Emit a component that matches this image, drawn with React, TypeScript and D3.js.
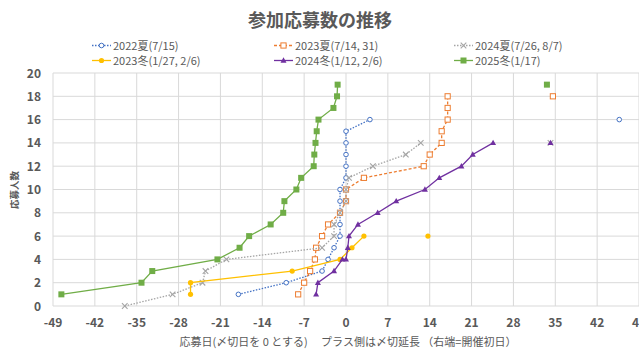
import * as d3 from "d3"

// 各シリーズ: [応募日(〆切日=0), 応募人数]
const s2022s: [number, number][] = [
  [-18, 1], [-10, 2], [-4, 3], [-3, 4], [-2, 5], [-1, 6], [-1, 7], [-1, 8],
  [-1, 9], [-1, 10], [0, 11], [0, 12], [0, 13], [0, 14], [0, 15], [4, 16],
]
const s2023s: [number, number][] = [
  [-8, 1], [-7, 2], [-6, 3], [-5.2, 4], [-5, 5], [-4, 6], [-3, 7], [-1, 8],
  [0, 9], [0, 10], [3, 11], [13, 12], [14, 13], [16, 14], [16, 15], [17, 16],
  [17, 17], [17, 18],
]
const s2024s: [number, number][] = [
  [-37, 0], [-29, 1], [-24, 2], [-23.5, 3], [-20, 4], [-4, 5], [-2, 6], [-2, 7],
  [-1, 8], [0, 9], [0, 10], [0.5, 11], [4.5, 12], [10, 13], [12.5, 14],
]
const s2023w: [number, number][] = [
  [-26, 1], [-26, 2], [-9, 3], [-1, 4], [1, 5], [3, 6],
]
const s2024w: [number, number][] = [
  [-5, 1], [-4.7, 2], [-2, 3], [-0.6, 4], [0, 4], [0.3, 5], [0.5, 6], [2, 7],
  [5.3, 8], [8.4, 9], [13.2, 10], [15.6, 11], [19.3, 12], [21.2, 13], [24.6, 14],
]
const s2025w: [number, number][] = [
  [-47.6, 1], [-34.2, 2], [-32.4, 3], [-21.5, 4], [-17.8, 5], [-16.2, 6],
  [-12.6, 7], [-10.5, 8], [-10.3, 9], [-8.3, 10], [-7.5, 11], [-5.4, 12],
  [-5.3, 13], [-5.1, 14], [-4.9, 15], [-4.6, 16], [-2.1, 17], [-1.5, 18], [-1.4, 19],
]

// 開催初日 (右端) の点
const event2022s: [number, number][] = [[45.7, 16]]
const event2023s: [number, number][] = [[34.6, 18]]
const event2024s: [number, number][] = [[34.2, 14]]
const event2023w: [number, number][] = [[13.7, 6]]
const event2024w: [number, number][] = [[34.2, 14]]
const event2025w: [number, number][] = [[33.6, 19]]

const xTicks = [-49, -42, -35, -28, -21, -14, -7, 0, 7, 14, 21, 28, 35, 42, 49]
const yTicks = [0, 2, 4, 6, 8, 10, 12, 14, 16, 18, 20]

type Marker = "circleOpen" | "squareOpen" | "cross" | "circle" | "triangle" | "square"

const series: {
  name: string
  color: string
  dash: string
  marker: Marker
  data: [number, number][]
  event: [number, number][]
}[] = [
  { name: "2022夏(7/15)", color: "#4472C4", dash: "1.5 1.5", marker: "circleOpen", data: s2022s, event: event2022s },
  { name: "2023夏(7/14, 31)", color: "#ED7D31", dash: "3 2", marker: "squareOpen", data: s2023s, event: event2023s },
  { name: "2024夏(7/26, 8/7)", color: "#A5A5A5", dash: "1.5 1.5", marker: "cross", data: s2024s, event: event2024s },
  { name: "2023冬(1/27, 2/6)", color: "#FFC000", dash: "", marker: "circle", data: s2023w, event: event2023w },
  { name: "2024冬(1/12, 2/6)", color: "#7030A0", dash: "", marker: "triangle", data: s2024w, event: event2024w },
  { name: "2025冬(1/17)", color: "#70AD47", dash: "", marker: "square", data: s2025w, event: event2025w },
]

const font = "'Noto Sans CJK JP', 'Noto Sans', sans-serif"
const textColor = "#595959"

function MarkerShape({ type, x, y, color }: { type: Marker; x: number; y: number; color: string }) {
  switch (type) {
    case "circleOpen":
      return <circle cx={x} cy={y} r={2.3} fill="#fff" stroke={color} strokeWidth={1} />
    case "squareOpen":
      return <rect x={x - 2.6} y={y - 2.6} width={5.2} height={5.2} fill="#fff" stroke={color} strokeWidth={1} />
    case "cross":
      return (
        <path d={`M${x - 2.8},${y - 2.8}L${x + 2.8},${y + 2.8}M${x - 2.8},${y + 2.8}L${x + 2.8},${y - 2.8}`} stroke={color} strokeWidth={1.1} />
      )
    case "circle":
      return <circle cx={x} cy={y} r={2.6} fill={color} />
    case "triangle":
      return <path d={`M${x},${y - 3.2}L${x + 3},${y + 2.2}L${x - 3},${y + 2.2}Z`} fill={color} />
    case "square":
      return <rect x={x - 3} y={y - 3} width={6} height={6} fill={color} />
  }
}

export default function App() {
  const width = 639
  const height = 352
  const left = 53
  const right = 639
  const top = 73
  const bottom = 306

  const x = d3.scaleLinear().domain([-49, 49]).range([left, right])
  const y = d3.scaleLinear().domain([0, 20]).range([bottom, top])

  const line = d3
    .line<[number, number]>()
    .x((d) => x(d[0]))
    .y((d) => y(d[1]))

  const legendCols = [92, 274, 454]
  const legendRows = [45.5, 60.5]

  return (
    <svg width={width} height={height} style={{ position: "absolute", left: 0, top: 0, background: "#fff" }} fontFamily={font}>
      <text x={320} y={27} textAnchor="middle" fontSize={18} fontWeight="bold" fill={textColor}>
        参加応募数の推移
      </text>

      {/* legend */}
      {series.map((s, i) => {
        const lx = legendCols[i % 3]
        const ly = legendRows[Math.floor(i / 3)]
        return (
          <g key={s.name}>
            <line x1={lx} x2={lx + 19} y1={ly} y2={ly} stroke={s.color} strokeWidth={1.3} strokeDasharray={s.dash || undefined} />
            <MarkerShape type={s.marker} x={lx + 9.5} y={ly} color={s.color} />
            <text x={lx + 21} y={ly + 4} fontSize={11} fill={textColor}>
              {s.name}
            </text>
          </g>
        )
      })}

      {/* grid */}
      <g stroke="#d9d9d9" strokeWidth={1}>
        {yTicks.map((t) => (
          <line key={"h" + t} x1={left} x2={right} y1={y(t)} y2={y(t)} />
        ))}
        {xTicks.map((t) => (
          <line key={"v" + t} x1={x(t)} x2={x(t)} y1={top} y2={bottom} />
        ))}
      </g>

      {/* axis labels */}
      <g fontSize={12} fontWeight="bold" fill={textColor}>
        {yTicks.map((t) => (
          <text key={"yl" + t} x={41} y={y(t) + 4.5} textAnchor="end">
            {t}
          </text>
        ))}
        {xTicks.map((t) => (
          <text key={"xl" + t} x={x(t)} y={327} textAnchor="middle">
            {t}
          </text>
        ))}
      </g>
      <text x={348} y={346} textAnchor="middle" fontSize={11} fill={textColor}>
        応募日(〆切日を 0 とする)　 プラス側は〆切延長 （右端=開催初日）
      </text>
      <text transform="translate(18,190) rotate(-90)" textAnchor="middle" fontSize={9.5} fontWeight="bold" fill={textColor}>
        応募人数
      </text>

      {/* series */}
      {series.map((s) => (
        <g key={"s" + s.name}>
          <path d={line(s.data) ?? undefined} fill="none" stroke={s.color} strokeWidth={1.3} strokeDasharray={s.dash || undefined} />
          {s.data.concat(s.event).map((d, i) => (
            <MarkerShape key={i} type={s.marker} x={x(d[0])} y={y(d[1])} color={s.color} />
          ))}
        </g>
      ))}
    </svg>
  )
}
